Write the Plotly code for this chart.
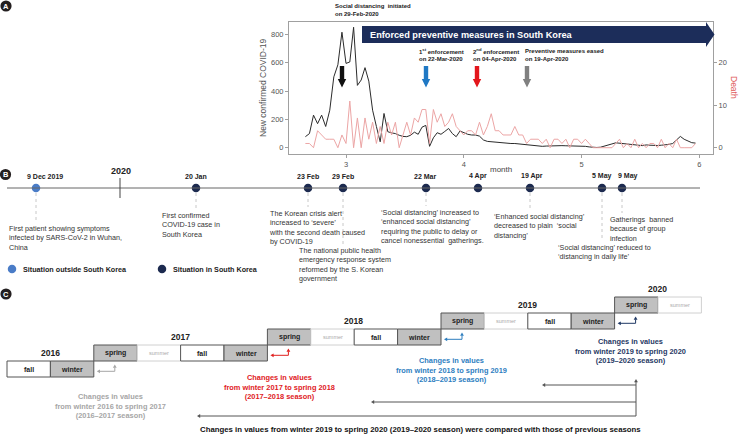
import plotly.graph_objects as go
import pandas as pd

# ---------------- data ----------------
START_DATE = "2020-02-20"
confirmed = [78, 100, 230, 170, 230, 150, 265, 500, 585, 815,
             595, 605, 850, 440, 478, 565, 470, 265, 150, 42,
             242, 113, 105, 100, 88, 80, 78, 88, 110, 95,
             145, 158, 10, 70, 106, 95, 115, 136, 100, 78,
             118, 105, 95, 90, 90, 82, 55, 45, 42, 44,
             38, 33, 30, 30, 30, 27, 25, 22, 18, 12,
             8, 10, 12, 14, 16, 18, 15, 14, 14, 12,
             10, 12, 10, 6, 3, 2, 4, 10, 16, 27,
             35, 33, 30, 28, 26, 22, 18, 15, 20, 18,
             16, 16, 18, 20, 24, 30, 55, 80, 60, 45,
             36, 33]
deaths = [1, 1, 0, 4, 3, 2, 2, 2, 0, 3,
          1, 11, 0, 7, 0, 7, 2, 6, 1, 5,
          1, 6, 3, 6, 0, 3, 6, 3, 7, 6,
          9, 9, 1, 9, 6, 8, 5, 6, 8, 5,
          4, 3, 4, 4, 3, 6, 3, 5, 8, 4,
          4, 3, 3, 3, 5, 3, 3, 1, 2, 2,
          2, 1, 2, 0, 2, 2, 1, 2, 0, 2,
          2, 1, 2, 1, 0, 0, 0, 0, 0, 0,
          1, 2, 0, 1, 0, 2, 0, 1, 0, 1,
          1, 0, 2, 0, 1, 0, 2, 0, 0, 0,
          0, 1]
left_ticks = [0, 200, 400, 600, 800]
right_ticks = [0, 10, 20]
month_ticks = [3, 4, 5, 6]

a_event_labels = ["Social distancing  initiated<br>on 29-Feb-2020",
                  "1<sup>st</sup> enforcement<br>on 22-Mar-2020",
                  "2<sup>nd</sup> enforcement<br>on 04-Apr-2020",
                  "Preventive measures eased<br>on 19-Apr-2020"]
a_event_colors = ["#111111", "#1f78c4", "#e3161c", "#808080"]
banner_text = "Enforced preventive measures in South Korea"

b_dates = ["9 Dec 2019", "20 Jan", "23 Feb", "29 Feb", "22 Mar",
           "4 Apr", "19 Apr", "5 May", "9 May"]
b_inside = [False, True, True, True, True, True, True, True, True]
b_desc = ["First patient showing symptoms\ninfected by SARS-CoV-2 in Wuhan,\nChina",
          "First confirmed\nCOVID-19 case in\nSouth Korea",
          "The Korean crisis alert\nincreased to \u2018severe\u2019\nwith the second death caused\nby COVID-19",
          "The national public health\nemergency response system\nreformed by the S. Korean\ngovernment",
          "\u2018Social distancing\u2019 increased to\n\u2018enhanced social distancing\u2019\nrequiring the public to delay or\ncancel nonessential  gatherings.",
          "",
          "\u2018Enhanced social distancing\u2019\ndecreased to plain  \u2018social\ndistancing\u2019",
          "\u2018Social distancing\u2019 reduced to\n\u2018distancing in daily life\u2019",
          "Gatherings  banned\nbecause of group\ninfection"]
b_year = "2020"
legend_labels = ["Situation outside South Korea", "Situation in South Korea"]

c_years = ["2016", "2017", "2018", "2019", "2020"]
c_seasons = ["fall", "winter",
             "spring", "summer", "fall", "winter",
             "spring", "summer", "fall", "winter",
             "spring", "summer", "fall", "winter",
             "spring", "summer"]
c_change_texts = ["Changes in values\nfrom winter 2016 to spring 2017\n(2016\u20132017 season)",
                  "Changes in values\nfrom winter 2017 to spring 2018\n(2017\u20132018 season)",
                  "Changes in values\nfrom winter 2018 to spring 2019\n(2018\u20132019 season)",
                  "Changes in values\nfrom winter 2019 to spring 2020\n(2019\u20132020 season)"]
c_footer = ("Changes in values from winter 2019 to spring 2020 (2019\u20132020 season) "
            "were compared with those of previous seasons")

# ---------------- layout constants ----------------
W, H = 741, 439
A_L, A_R, A_T, A_B = 289, 713, 22, 154
FONT = "Arial, Liberation Sans, sans-serif"
NAVY = "#1c2d5a"
DOT_OUT = "#4a7cc7"
DOT_IN = "#1c2a4f"
c_change_colors = ["#a6a6a6", "#e0201e", "#2e7ebf", "#1f3864"]

dates = pd.date_range(START_DATE, periods=len(confirmed), freq="D")
month_pos = [d.month + (d.day - 1) / d.days_in_month for d in dates]

fig = go.Figure()
fig.add_trace(go.Scatter(x=month_pos, y=confirmed, mode="lines",
                         line=dict(color="#2b2b2b", width=1), xaxis="x", yaxis="y",
                         hoverinfo="skip"))
fig.add_trace(go.Scatter(x=month_pos, y=deaths, mode="lines",
                         line=dict(color="#eca5a5", width=1), xaxis="x", yaxis="y3",
                         hoverinfo="skip"))


def txt(x, y, text, size=7.2, color="#333", bold=False, xanchor="left",
        yanchor="middle", align="left", angle=0):
    text = text.replace("\n", "<br>")
    fig.add_annotation(x=x, y=y, xref="x2", yref="y2",
                       text=f"<b>{text}</b>" if bold else text, showarrow=False,
                       font=dict(size=size, color=color, family=FONT),
                       xanchor=xanchor, yanchor=yanchor, align=align,
                       textangle=angle, borderpad=0)


def line(x0, y0, x1, y1, color="#555", width=1, dash="solid"):
    fig.add_shape(type="line", xref="x2", yref="y2", x0=x0, y0=y0, x1=x1, y1=y1,
                  line=dict(color=color, width=width, dash=dash))


def head(tx, ty, direction, color="#555", L=3.2, hw=1.9):
    if direction == "left":
        p = f"M{tx},{ty} L{tx+L},{ty-hw} L{tx+L},{ty+hw} Z"
    else:  # up
        p = f"M{tx},{ty} L{tx-hw},{ty+L} L{tx+hw},{ty+L} Z"
    fig.add_shape(type="path", xref="x2", yref="y2", path=p, fillcolor=color,
                  line=dict(width=0))


def badge(cx, cy, letter):
    r = 5.6
    fig.add_shape(type="circle", xref="x2", yref="y2", x0=cx - r, x1=cx + r,
                  y0=cy - r, y1=cy + r, fillcolor="#231f20", line=dict(width=0))
    txt(cx, cy + 0.3, letter, size=7.5, color="white", bold=True, xanchor="center")


# ---------------- panel A decorations ----------------
badge(6, 6, "A")
fig.add_shape(type="path", xref="x2", yref="y2",
              path="M362,26 L706,26 L706,22 L714.5,34.5 L706,47 L706,43 L362,43 Z",
              fillcolor=NAVY, line=dict(width=0))
txt(369, 34.5, banner_text, size=9.2, color="white", bold=True)

a_arrow_x = [342, 426, 477, 527]
a_label_x = [334, 418, 472, 524]
a_label_y = [10, 54.5, 54.5, 54.5]
for ax_, lx, ly, lab, col in zip(a_arrow_x, a_label_x, a_label_y, a_event_labels, a_event_colors):
    p = (f"M{ax_-2.2},66 L{ax_+2.2},66 L{ax_+2.2},79 L{ax_+4.2},79 L{ax_},87.5 "
         f"L{ax_-4.2},79 L{ax_-2.2},79 Z")
    fig.add_shape(type="path", xref="x2", yref="y2", path=p, fillcolor=col,
                  line=dict(width=0))
    txt(lx, ly, lab, size=6, color="#222", bold=True)

txt(263, 88, "New confirmed COVID-19", size=8.5, color="#555", xanchor="center", angle=-90)
txt(734, 87, "Death", size=8.5, color="#e05a5a", xanchor="center", angle=90)
txt(501, 169.5, "month", size=8, color="#444", xanchor="center")

# ---------------- panel B ----------------
badge(5.5, 174.5, "B")
line(7, 188, 700, 188, color="#666", width=1)
line(120, 178, 120, 198, color="#444", width=1)
txt(121, 171, b_year, size=9, color="#222", bold=True, xanchor="center")

b_dot_x = [36, 196, 308, 343, 426, 478, 530, 602, 622]
b_label_x = [45, 196, 308, 343, 425, 478, 532, 602, 628]
b_desc_xy = [(8, 228), (161, 215), (268, 213), (298, 250), (380, 212), None,
             (493, 216), (557, 247), (609, 219)]
for dx, desc, pos in zip(b_dot_x, b_desc, b_desc_xy):
    if pos is None or not desc:
        continue
    line(dx, 193, dx, pos[1] - 6, color="#c8c8c8", width=1, dash="dot")
    txt(pos[0], pos[1] - 4.8, desc, size=7.2, color="#333", yanchor="top")
for lx, lab in zip(b_label_x, b_dates):
    txt(lx, 176, lab, size=7, color="#222", bold=True, xanchor="center")

fig.add_trace(go.Scatter(x=b_dot_x, y=[188] * len(b_dot_x), mode="markers",
                         marker=dict(size=8.5, color=[DOT_IN if i else DOT_OUT for i in b_inside]),
                         xaxis="x2", yaxis="y2", hoverinfo="skip"))
fig.add_trace(go.Scatter(x=[12, 162], y=[269, 269], mode="markers",
                         marker=dict(size=8.5, color=[DOT_OUT, DOT_IN]),
                         xaxis="x2", yaxis="y2", hoverinfo="skip"))
txt(22, 269, legend_labels[0], size=7.2, color="#222", bold=True)
txt(172, 269, legend_labels[1], size=7.2, color="#222", bold=True)

# ---------------- panel C ----------------
badge(6, 294, "C")
BW, BH, X0, ROW0 = 43.4, 16, 7, 361
for k, s in enumerate(c_seasons):
    row = (k + 2) // 4
    x0 = X0 + k * BW
    y0 = ROW0 - row * BH
    gray = s in ("winter", "spring")
    summer = s == "summer"
    fig.add_shape(type="rect", xref="x2", yref="y2", x0=x0, x1=x0 + BW, y0=y0, y1=y0 + BH,
                  fillcolor="#c0c0c0" if gray else "white",
                  line=dict(color="#d0d0d0" if summer else "#555", width=1))
    if summer:
        txt(x0 + BW / 2, y0 + BH / 2, s, size=5.5, color="#aaa", xanchor="center")
    else:
        txt(x0 + BW / 2, y0 + BH / 2, s, size=7, color="#222", bold=True, xanchor="center")

year_xy = [(50, 353), (180, 337), (353, 321), (527, 305), (657, 289)]
for (yx, yy), yr in zip(year_xy, c_years):
    txt(yx, yy, yr, size=8.5, color="#222", bold=True, xanchor="center")

change_xy = [(110, 406), (279, 387), (451, 370), (630, 351)]
for r in range(4):
    xw = X0 + (4 * r + 2) * BW
    top = ROW0 - r * BH
    col = c_change_colors[r]
    hy = top + 10.3
    line(xw + 5, hy, xw + 21, hy, color=col, width=1)
    head(xw + 3, hy, "left", color=col)
    line(xw + 21, top + 6.5, xw + 21, hy, color=col, width=1)
    head(xw + 21, top + 3.5, "up", color=col)
    cx, cy = change_xy[r]
    txt(cx, cy, c_change_texts[r], size=7.4, color=col, bold=True, xanchor="center",
        align="center")

BX = 636
line(BX, 382, BX, 416, color="#555")
head(BX, 379, "up", color="#555")
for yy, xl in [(385, 542), (402, 371), (416, 197)]:
    line(xl + 3, yy, BX, yy, color="#555")
    head(xl, yy, "left", color="#555")
txt(420, 429, c_footer, size=7.8, color="#111", bold=True, xanchor="center")

# ---------------- axes / layout ----------------
axis_common = dict(showgrid=False, zeroline=False, ticks="outside", ticklen=3,
                   tickcolor="#a0a0a0", tickfont=dict(size=7.5, color="#555", family=FONT),
                   automargin=False)
fig.update_layout(
    width=W, height=H, margin=dict(l=0, r=0, t=0, b=0),
    paper_bgcolor="white", plot_bgcolor="rgba(0,0,0,0)", showlegend=False,
    font=dict(family=FONT),
    xaxis=dict(domain=[A_L / W, A_R / W], range=[2.516, 6.116], tickvals=month_ticks,
               showline=True, mirror=True, linecolor="#a0a0a0", anchor="y", **axis_common),
    yaxis=dict(domain=[1 - A_B / H, 1 - A_T / H], range=[-44, 887], tickvals=left_ticks,
               showline=True, mirror=True, linecolor="#a0a0a0", anchor="x", **axis_common),
    yaxis3=dict(overlaying="y", side="right", anchor="x", range=[-1.48, 29.6],
                tickvals=right_ticks, showline=False, **axis_common),
    xaxis2=dict(domain=[0, 1], range=[0, W], visible=False, anchor="y2", fixedrange=True),
    yaxis2=dict(domain=[0, 1], range=[H, 0], visible=False, anchor="x2", fixedrange=True),
)

fig.write_html("out.html", config={"displayModeBar": False},
               post_script="document.body.style.margin='0';document.body.style.overflow='hidden';")
